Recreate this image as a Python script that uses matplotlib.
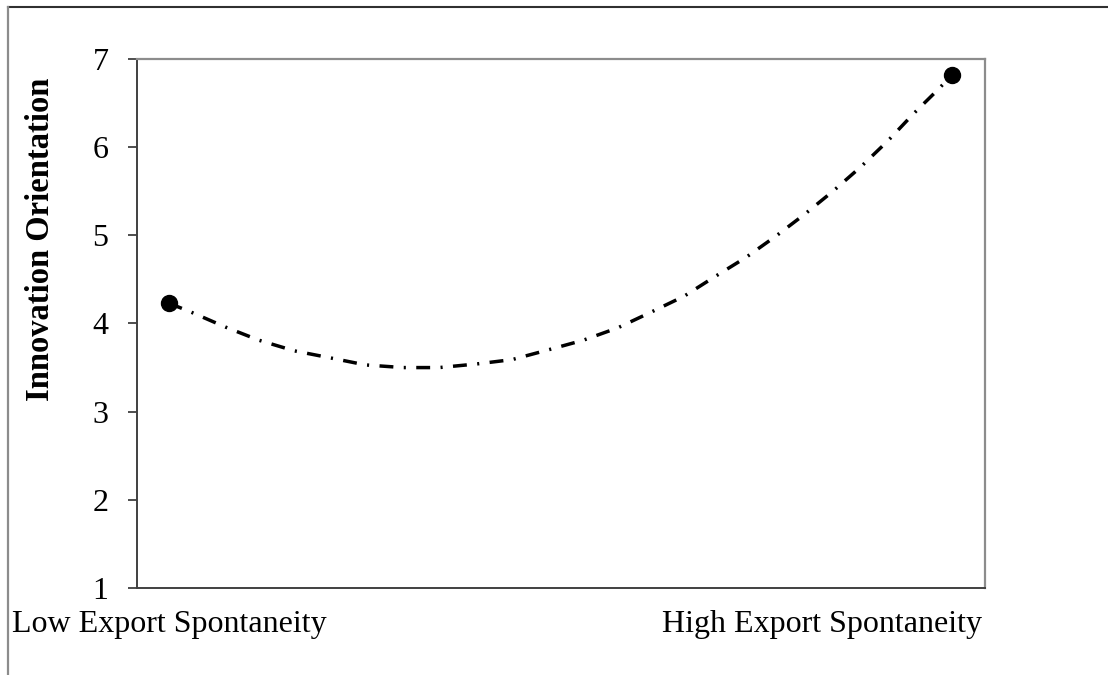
import matplotlib
matplotlib.use("Agg")
import matplotlib.pyplot as plt
from matplotlib.lines import Line2D

plt.rcParams['font.family'] = ['Liberation Serif', 'DejaVu Serif']

# 端点（低/高出口自发性）
end_x = [0.0, 1.0]
end_y = [4.23, 6.82]

# 曲线点
curve_x = [0.000, 0.028, 0.072, 0.115, 0.160, 0.206, 0.251, 0.299, 0.345, 0.392,
           0.438, 0.484, 0.529, 0.573, 0.616, 0.658, 0.697, 0.737, 0.775, 0.812,
           0.848, 0.884, 0.918, 0.951, 0.983, 1.000]
curve_y = [4.23, 4.13, 3.96, 3.81, 3.69, 3.61, 3.53, 3.50, 3.50, 3.54,
           3.59, 3.70, 3.81, 3.95, 4.13, 4.31, 4.53, 4.75, 4.99, 5.24,
           5.50, 5.78, 6.07, 6.38, 6.66, 6.82]

x_tick_pos = [0.0, 0.834]
x_tick_labels = ["Low Export Spontaneity", "High Export Spontaneity"]
y_ticks = [1, 2, 3, 4, 5, 6, 7]

fig = plt.figure(figsize=(11.08, 6.75), dpi=100)
ax = fig.add_axes([0.1236, 0.1289, 0.7653, 0.7837])

ax.plot(curve_x, curve_y, color='black', linewidth=2.5,
        linestyle=(0, (4.0, 3.0, 0.6, 3.0)))
ax.plot(end_x, end_y, linestyle='none', marker='o', markersize=11.5,
        color='black')

ax.set_xlim(-0.0409, 1.0421)
ax.set_ylim(1, 7)
ax.set_yticks(y_ticks)
ax.set_xticks(x_tick_pos)
ax.set_xticklabels(x_tick_labels)
ax.tick_params(axis='y', direction='out', length=6.5, width=1.3,
               color='#404040', pad=14, labelsize=23)
ax.tick_params(axis='x', length=0, pad=16, labelsize=23)

ax.set_ylabel("Innovation Orientation", fontsize=23.5, fontweight='bold')
ax.yaxis.set_label_coords(-0.095, 0.66)

for side in ['left', 'bottom']:
    ax.spines[side].set_color('#404040')
    ax.spines[side].set_linewidth(1.4)
for side in ['top', 'right']:
    ax.spines[side].set_color('#8c8c8c')
    ax.spines[side].set_linewidth(1.6)

# 外框（只露出上边和左边）
fig.add_artist(Line2D([0.0072, 1.0], [0.9896, 0.9896], color='#303030',
                      linewidth=1.5, transform=fig.transFigure))
fig.add_artist(Line2D([0.0072, 0.0072], [0.0, 0.9896], color='#8c8c8c',
                      linewidth=1.6, transform=fig.transFigure))

fig.savefig("out.png", dpi=100)
